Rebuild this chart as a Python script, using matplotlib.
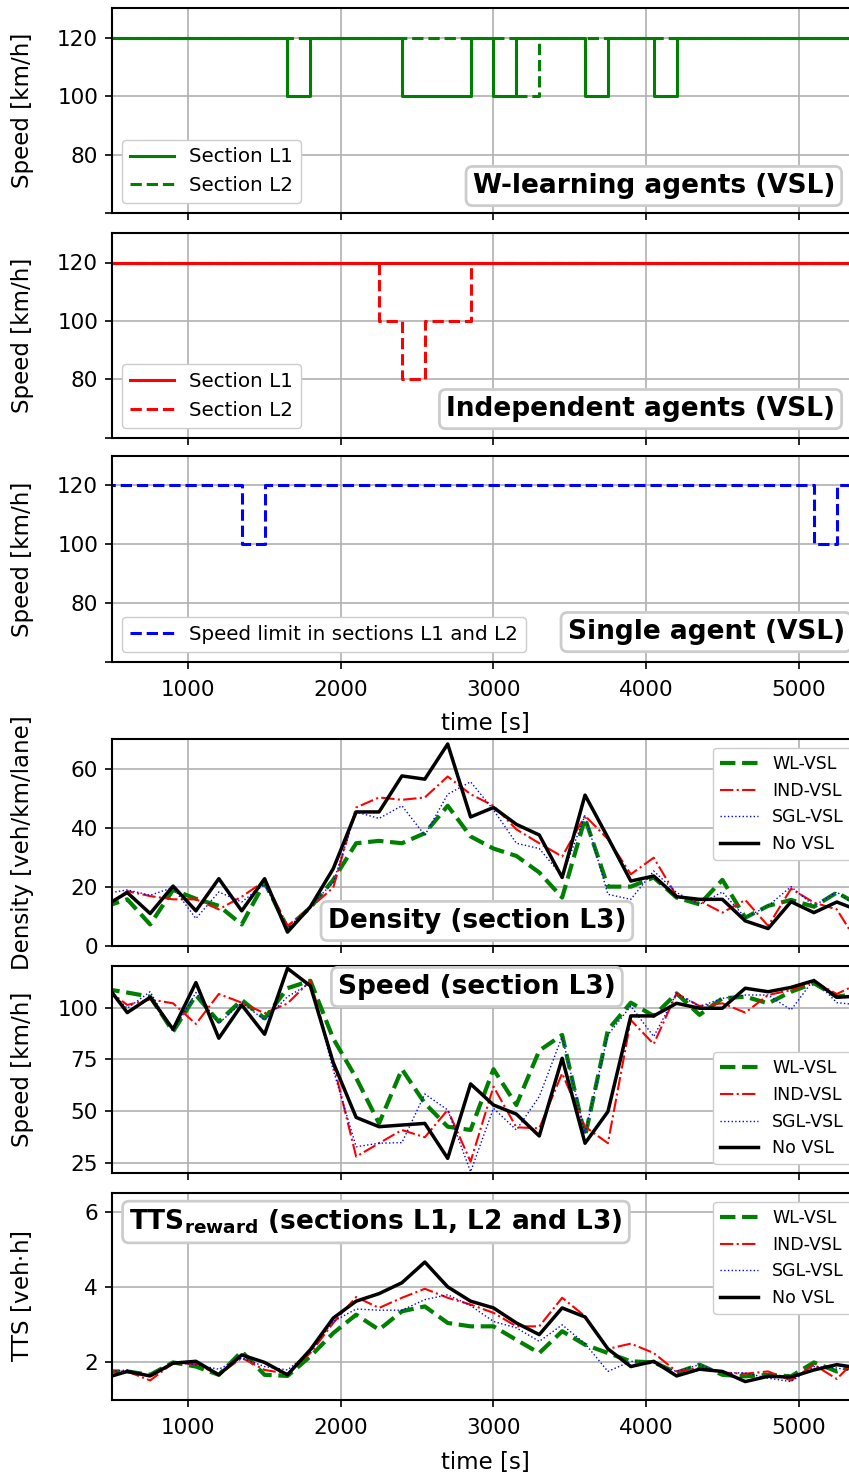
import numpy as np
import matplotlib
matplotlib.use("Agg")
import matplotlib.pyplot as plt
from matplotlib.ticker import FixedLocator, NullFormatter

plt.rcParams['font.family'] = ['DejaVu Sans']
plt.rcParams['mathtext.fontset'] = 'dejavusans'

# time grid (s), one sample every 150 s
t = [450, 600, 750, 900, 1050, 1200, 1350, 1500, 1650, 1800, 1950, 2100,
     2250, 2400, 2550, 2700, 2850, 3000, 3150, 3300, 3450, 3600, 3750, 3900,
     4050, 4200, 4350, 4500, 4650, 4800, 4950, 5100, 5250, 5400]

# speed limits (km/h), value held from t[i] to t[i+1]
wl_l1 = [120, 120, 120, 120, 120, 120, 120, 120, 100, 120, 120, 120,
         120, 100, 100, 100, 120, 100, 120, 120, 120, 100, 120, 120,
         100, 120, 120, 120, 120, 120, 120, 120, 120, 120]
wl_l2 = [120, 120, 120, 120, 120, 120, 120, 120, 120, 120, 120, 120,
         120, 120, 120, 120, 120, 120, 100, 120, 120, 120, 120, 120,
         120, 120, 120, 120, 120, 120, 120, 120, 120, 120]
ind_l1 = [120, 120, 120, 120, 120, 120, 120, 120, 120, 120, 120, 120,
          120, 120, 120, 120, 120, 120, 120, 120, 120, 120, 120, 120,
          120, 120, 120, 120, 120, 120, 120, 120, 120, 120]
ind_l2 = [120, 120, 120, 120, 120, 120, 120, 120, 120, 120, 120, 120,
          100, 80, 100, 100, 120, 120, 120, 120, 120, 120, 120, 120,
          120, 120, 120, 120, 120, 120, 120, 120, 120, 120]
sgl_l12 = [120, 120, 120, 120, 120, 120, 100, 120, 120, 120, 120, 120,
           120, 120, 120, 120, 120, 120, 120, 120, 120, 120, 120, 120,
           120, 120, 120, 120, 120, 120, 120, 100, 120, 120]

# density in section L3 (veh/km/lane)
dens_wl = [13.3, 15.8, 7.3, 19.0, 16.0, 13.6, 7.3, 21.5, 6.2, 13.0, 22.4, 34.8,
           35.6, 34.8, 38.2, 47.5, 37.1, 33.0, 30.5, 24.9, 16.4, 43.2, 20.1, 20.1,
           23.2, 16.4, 14.1, 22.4, 9.6, 13.6, 15.6, 13.3, 18.1, 13.8]
dens_ind = [12.8, 18.6, 16.9, 15.8, 15.8, 12.4, 16.7, 22.0, 6.8, 13.0, 19.8, 46.9,
            50.3, 49.5, 50.3, 57.4, 51.4, 47.5, 39.5, 34.8, 30.3, 44.1, 36.2, 24.3,
            29.9, 16.9, 15.3, 11.3, 15.6, 6.8, 19.4, 14.7, 12.4, 0.0]
dens_sgl = [17.7, 19.0, 17.2, 19.8, 9.3, 18.3, 14.9, 20.9, 5.9, 13.6, 21.5, 45.4,
            43.2, 47.5, 37.5, 51.4, 55.6, 46.1, 34.8, 33.0, 23.7, 44.3, 17.5, 15.8,
            25.4, 18.1, 14.1, 18.3, 9.6, 13.6, 20.1, 13.6, 18.3, 12.7]
dens_nov = [13.5, 18.1, 11.0, 20.3, 11.9, 22.8, 11.9, 22.8, 4.7, 13.3, 26.2, 45.4,
            45.4, 57.6, 56.5, 68.4, 43.7, 46.9, 41.2, 37.6, 23.2, 51.1, 36.7, 22.0,
            23.7, 16.7, 15.8, 15.8, 8.5, 5.9, 15.0, 11.3, 14.9, 11.9]

# speed in section L3 (km/h)
spd_wl = [109.1, 107.3, 105.3, 88.4, 106.0, 93.2, 103.7, 94.8, 109.4, 113.0, 85.0, 66.0,
          44.0, 70.2, 53.7, 42.4, 40.8, 70.2, 52.9, 79.2, 86.8, 37.6, 89.2, 102.4,
          96.0, 106.9, 96.5, 104.5, 105.3, 102.1, 107.7, 111.8, 105.3, 106.8]
spd_ind = [109.7, 101.3, 104.0, 102.1, 92.1, 106.6, 102.4, 97.3, 102.0, 113.0, 73.0, 27.9,
           34.4, 40.8, 37.3, 50.5, 25.5, 61.8, 42.1, 41.6, 68.2, 42.4, 34.4, 94.0,
           82.4, 106.9, 100.8, 102.1, 97.6, 106.1, 108.5, 112.6, 106.6, 111.9]
spd_sgl = [110.5, 99.7, 107.7, 88.4, 107.3, 92.4, 102.4, 94.0, 105.3, 111.8, 69.8, 32.7,
           34.4, 34.7, 58.2, 50.5, 20.6, 51.3, 40.8, 57.0, 86.0, 39.2, 86.8, 100.8,
           86.0, 106.9, 100.5, 104.5, 106.1, 106.1, 98.9, 113.7, 102.4, 101.3]
spd_nov = [112.2, 97.6, 105.0, 89.5, 112.1, 85.2, 101.3, 87.1, 119.0, 110.5, 73.4, 46.9,
           42.4, 43.2, 44.0, 27.1, 63.1, 52.9, 48.5, 37.9, 75.5, 34.4, 49.7, 96.0,
           96.0, 102.1, 99.7, 99.7, 109.4, 107.7, 109.8, 113.1, 105.0, 105.6]

# TTS reward (veh*h)
tts_wl = [1.76, 1.76, 1.67, 2.00, 1.89, 1.67, 2.29, 1.67, 1.64, 2.16, 2.78, 3.27,
          2.87, 3.36, 3.49, 3.05, 2.96, 2.96, 2.60, 2.25, 2.83, 2.47, 2.25, 2.03,
          2.00, 1.73, 1.94, 1.67, 1.63, 1.67, 1.63, 2.00, 1.76, 1.93]
tts_ind = [1.76, 1.76, 1.52, 1.98, 1.96, 1.67, 2.12, 1.80, 1.70, 2.25, 3.05, 3.74,
           3.45, 3.72, 3.96, 3.72, 3.54, 3.32, 2.96, 2.96, 3.72, 3.23, 2.36, 2.50,
           2.25, 1.76, 1.85, 1.73, 1.70, 1.76, 1.52, 1.94, 1.56, 2.18]
tts_sgl = [1.74, 1.80, 1.63, 2.00, 1.94, 1.82, 2.12, 1.89, 1.80, 2.29, 3.09, 3.42,
           3.39, 3.39, 3.67, 3.80, 3.51, 3.09, 2.92, 2.56, 3.00, 2.50, 1.76, 2.03,
           1.98, 1.76, 1.94, 1.72, 1.72, 1.58, 1.49, 1.89, 1.85, 1.75]
tts_nov = [1.58, 1.76, 1.64, 1.98, 2.03, 1.67, 2.20, 2.00, 1.67, 2.34, 3.18, 3.63,
           3.83, 4.12, 4.67, 4.01, 3.63, 3.45, 3.05, 2.74, 3.45, 3.21, 2.36, 1.89,
           2.03, 1.64, 1.82, 1.76, 1.49, 1.63, 1.61, 1.80, 1.94, 1.85]

xticks = [1000, 2000, 3000, 4000, 5000]

W, H = 849, 1474
fig = plt.figure(figsize=(W / 100, H / 100), dpi=100)

left = 112 / W
width = 747.7 / W
# (top px, bottom px) of each panel
rows = [(8.3, 213.3), (233.3, 437.7), (456, 661.7),
        (739.3, 946), (966.3, 1173), (1193.3, 1400)]
axes = []
for top, bot in rows:
    axes.append(fig.add_axes([left, 1 - bot / H, width, (bot - top) / H]))

FS_TICK = 15.5
FS_LAB = 16.5
FS_TITLE = 19
FS_LEG_TOP = 14.3
FS_LEG = 12.5

box = dict(boxstyle='round,pad=0.25', fc='white', ec='#cccccc', lw=2)
leg_kw = dict(framealpha=1, edgecolor='#cccccc', handlelength=2.2)


def style(ax, ylim, yticks, ylabel, show_x):
    ax.set_xlim(500, 5400)
    ax.set_ylim(*ylim)
    ax.xaxis.set_major_locator(FixedLocator(xticks))
    ax.yaxis.set_major_locator(FixedLocator(yticks))
    ax.grid(True, color='#b0b0b0', lw=1.2)
    ax.set_axisbelow(True)
    ax.tick_params(labelsize=FS_TICK, width=1.2, length=5, pad=5)
    ax.tick_params(axis='x', pad=8)
    for s in ax.spines.values():
        s.set_linewidth(1.5)
    ax.set_ylabel(ylabel, fontsize=FS_LAB)
    ax.yaxis.set_label_coords(-0.104, 0.5)
    if show_x:
        ax.set_xlabel('time [s]', fontsize=FS_LAB, labelpad=9)
    else:
        ax.xaxis.set_major_formatter(NullFormatter())


def vsl_ticks(ax):
    ax.set_yticks([60, 80, 100, 120])
    ax.set_yticklabels(['', '80', '100', '120'])


# --- panel 1: W-learning agents
ax = axes[0]
ax.plot(t, wl_l1, color='g', lw=2.2, drawstyle='steps-post', label='Section L1')
ax.plot(t, wl_l2, color='g', lw=2.2, ls='--', drawstyle='steps-post', label='Section L2')
style(ax, (60, 130), [60, 80, 100, 120], 'Speed [km/h]', False)
vsl_ticks(ax)
ax.legend(loc='lower left', fontsize=FS_LEG_TOP, **leg_kw)
ax.text(0.967, 0.133, 'W-learning agents (VSL)', transform=ax.transAxes,
        ha='right', va='center', fontsize=FS_TITLE, fontweight='bold', bbox=box)

# --- panel 2: independent agents
ax = axes[1]
ax.plot(t, ind_l1, color='r', lw=2.2, drawstyle='steps-post', label='Section L1')
ax.plot(t, ind_l2, color='r', lw=2.2, ls='--', drawstyle='steps-post', label='Section L2')
style(ax, (60, 130), [60, 80, 100, 120], 'Speed [km/h]', False)
vsl_ticks(ax)
ax.legend(loc='lower left', fontsize=FS_LEG_TOP, **leg_kw)
ax.text(0.967, 0.14, 'Independent agents (VSL)', transform=ax.transAxes,
        ha='right', va='center', fontsize=FS_TITLE, fontweight='bold', bbox=box)

# --- panel 3: single agent
ax = axes[2]
ax.plot(t, sgl_l12, color='b', lw=2.2, ls='--', drawstyle='steps-post',
        label='Speed limit in sections L1 and L2')
style(ax, (60, 130), [60, 80, 100, 120], 'Speed [km/h]', True)
vsl_ticks(ax)
ax.legend(loc='lower left', fontsize=FS_LEG_TOP, **leg_kw)
ax.text(0.98, 0.144, 'Single agent (VSL)', transform=ax.transAxes,
        ha='right', va='center', fontsize=FS_TITLE, fontweight='bold', bbox=box)


def four_lines(ax, wl, ind, sgl, nov):
    ax.plot(t, wl, color='g', lw=3, ls='--', label='WL-VSL')
    ax.plot(t, ind, color='r', lw=1.5, ls='-.', label='IND-VSL')
    ax.plot(t, sgl, color='b', lw=1.0, ls=':', label='SGL-VSL')
    ax.plot(t, nov, color='k', lw=2.5, label='No VSL')


# --- panel 4: density
ax = axes[3]
four_lines(ax, dens_wl, dens_ind, dens_sgl, dens_nov)
style(ax, (0, 70), [0, 20, 40, 60], 'Density [veh/km/lane]', False)
ax.legend(loc='upper right', fontsize=FS_LEG, **leg_kw)
ax.text(0.488, 0.121, 'Density (section L3)', transform=ax.transAxes,
        ha='center', va='center', fontsize=FS_TITLE, fontweight='bold', bbox=box)

# --- panel 5: speed
ax = axes[4]
four_lines(ax, spd_wl, spd_ind, spd_sgl, spd_nov)
style(ax, (20, 120), [25, 50, 75, 100], 'Speed [km/h]', False)
ax.legend(loc='lower right', fontsize=FS_LEG, **leg_kw)
ax.text(0.488, 0.90, 'Speed (section L3)', transform=ax.transAxes,
        ha='center', va='center', fontsize=FS_TITLE, fontweight='bold', bbox=box)

# --- panel 6: TTS
ax = axes[5]
four_lines(ax, tts_wl, tts_ind, tts_sgl, tts_nov)
style(ax, (1, 6.5), [2, 4, 6], 'TTS [veh$\\cdot$h]', True)
ax.legend(loc='upper right', fontsize=FS_LEG, **leg_kw)
ax.text(0.353, 0.861, r'$\mathbf{TTS_{reward}}$ (sections L1, L2 and L3)',
        transform=ax.transAxes, ha='center', va='center', fontsize=FS_TITLE,
        fontweight='bold', bbox=box)

fig.savefig('out.png', dpi=100)
plt.close(fig)
